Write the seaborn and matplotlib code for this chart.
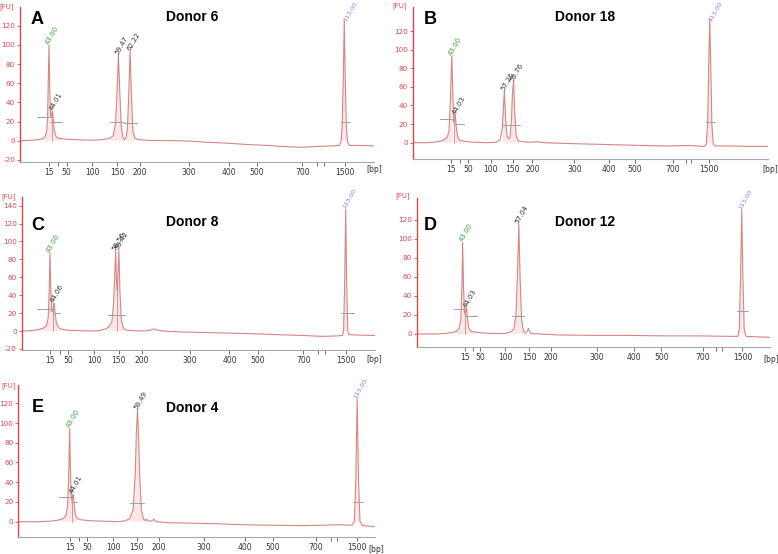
import numpy as np
import pandas as pd
import matplotlib
matplotlib.use("Agg")
import matplotlib.pyplot as plt
import seaborn as sns

sns.set_theme(style="white")
plt.rcParams["font.family"] = ["DejaVu Sans"]

# ---------------- data ----------------
# traces: (migration position in % of axis, fluorescence FU)
A_trace = [(0,0),(3,0.3),(5,1),(6.3,2),(7.0,4),(7.5,9),(7.8,25),(8.0,65),(8.2,100),(8.4,55),(8.6,28),(8.8,24),(9.0,29),(9.2,31),(9.4,22),(9.7,10),(10.2,4.5),(11,2.5),(13,1.5),(16,1),(20,0.5),(23,1),(25,2),(26.3,5),(27.0,18),(27.4,50),(27.8,90),(28.2,50),(28.6,15),(29.1,3),(29.5,1),(29.9,3),(30.3,10),(30.7,45),(31.1,94),(31.5,45),(31.9,10),(32.5,2.5),(33.5,1),(36,0.3),(40,0),(44,0),(48,-0.5),(52,-1.5),(58,-2.5),(64,-4),(70,-5),(76,-6.5),(80,-7),(84,-6),(88,-5.5),(90.2,-5),(90.7,-1),(91.0,15),(91.3,60),(91.6,126),(91.9,60),(92.2,15),(92.5,-1),(93.0,-5),(96,-5),(100,-5.5)]
B_trace = [(0,0),(4,0),(7,1),(8.5,2.5),(9.6,5),(10.2,12),(10.6,45),(11.0,93.5),(11.35,45),(11.6,22),(11.8,25),(12.0,30),(12.25,18),(12.6,7),(13.2,3),(14.5,1.5),(17,0.5),(21,0),(23.5,0.5),(24.6,3),(25.2,15),(25.5,35),(25.8,55.5),(26.1,30),(26.5,8),(27.0,4),(27.4,6),(27.8,25),(28.1,55),(28.4,65.6),(28.7,35),(29.1,8),(29.7,2),(31,1),(33,0.5),(35,1),(37,0),(45,-1),(55,-2),(65,-3),(72,-3.5),(78,-3),(82,-4),(82.6,-2),(83.0,20),(83.3,80),(83.6,133),(83.9,80),(84.2,20),(84.6,-2),(85.2,-3.5),(90,-3.5),(95,-4),(100,-4)]
C_trace = [(0,0),(3,0.5),(4.5,1.5),(6,3),(7.0,6),(7.5,15),(7.8,45),(8.0,87.5),(8.25,45),(8.5,22),(8.8,22),(9.0,28),(9.2,31),(9.45,20),(9.8,9),(10.4,4),(11.2,2),(13,1),(16,0.5),(20,0),(22,0.5),(23.5,2),(24.5,4),(25.5,10),(26.0,30),(26.3,60),(26.6,89.4),(26.85,55),(27.05,45),(27.25,65),(27.5,90.5),(27.8,45),(28.2,12),(28.8,3),(29.5,1),(32,0.3),(35,0),(36.5,1),(37.5,2.5),(38.5,1),(40,0),(45,-1),(55,-2),(65,-3),(72,-4),(80,-5),(85,-6),(89,-5.5),(90.8,-5),(91.1,0),(91.4,50),(91.7,136),(92.0,50),(92.3,0),(92.7,-4),(95,-4.5),(100,-5)]
D_trace = [(0,0),(5,0),(8,0.5),(10,1.5),(11.3,3),(12.0,6),(12.5,15),(12.8,50),(13.0,96.5),(13.25,50),(13.5,25),(13.7,20),(13.9,24),(14.1,27.7),(14.35,18),(14.7,7),(15.3,3),(16.5,2),(19,1),(22,0.5),(25,0.5),(26.5,2),(27.5,5),(28.1,20),(28.5,60),(28.9,115.4),(29.3,55),(29.7,15),(30.2,3),(30.8,1),(31.3,3),(31.6,6),(31.9,3),(32.5,0.5),(35,0),(40,-1),(50,-1.5),(60,-1.5),(70,-2),(80,-2),(88,-2.5),(90.9,-2.5),(91.3,5),(91.7,65),(92.0,130.5),(92.3,65),(92.7,5),(93.2,-2.5),(96,-3),(100,-3.5)]
E_trace = [(0,0),(5,0),(9,0.5),(11,1.5),(12.5,3),(13.3,6),(13.8,15),(14.1,45),(14.4,94.7),(14.65,45),(14.9,22),(15.1,22),(15.25,26),(15.4,27.7),(15.65,18),(16,7),(16.6,3),(17.5,2),(20,1),(24,0.5),(28,0),(30,1),(31.2,3),(32.2,12),(32.8,50),(33.1,90),(33.4,113),(33.7,90),(34.0,50),(34.5,12),(35.1,3),(35.6,1),(36.0,2.5),(36.5,0.5),(37.5,1),(38.0,2.5),(38.6,0),(42,-1),(48,-1.5),(55,-2),(62,-3),(70,-3.5),(80,-4),(86,-3.5),(90,-3),(93.6,-3.5),(94.2,0),(94.6,40),(95.0,124.4),(95.4,40),(95.8,0),(96.5,-4),(100,-5)]

# peak labels
A_peak_x = [8.2, 9.2, 27.8, 31.1, 91.6]
A_peak_h = [100, 31, 90, 94, 126]
A_peak_lab = ["43.00", "44.01", "59.47", "62.22", "113.00"]
B_peak_x = [11.0, 12.0, 25.8, 28.4, 83.6]
B_peak_h = [93.5, 30, 55.5, 65.6, 133]
B_peak_lab = ["43.00", "44.03", "57.26", "59.76", "113.00"]
C_peak_x = [8.0, 9.2, 26.6, 27.5, 91.7]
C_peak_h = [87.5, 31, 89.4, 90.5, 136]
C_peak_lab = ["43.00", "44.06", "58.56", "59.42", "113.00"]
D_peak_x = [13.0, 14.1, 28.9, 92.0]
D_peak_h = [96.5, 27.7, 115.4, 130.5]
D_peak_lab = ["43.00", "44.03", "57.04", "113.00"]
E_peak_x = [14.4, 15.4, 33.4, 95.0]
E_peak_h = [94.7, 27.7, 113, 124.4]
E_peak_lab = ["43.00", "44.01", "59.49", "113.00"]

# peak-width bars (x0, x1, FU)
A_bars = [(4.7, 8.5, 25), (8.5, 11.8, 20), (25.4, 29.4, 19), (29.4, 33.0, 18.5), (90.6, 93.2, 20)]
B_bars = [(7.7, 11.4, 26), (11.6, 14.4, 20), (25.3, 30.2, 19), (82.5, 85.0, 22)]
C_bars = [(4.4, 8.8, 25), (8.8, 10.7, 20), (24.5, 29.1, 18), (90.3, 94.1, 20)]
D_bars = [(10.6, 14.0, 26), (13.7, 17.0, 19), (26.9, 30.4, 19), (90.6, 93.7, 24)]
E_bars = [(11.5, 14.9, 25), (14.8, 16.5, 20), (31.3, 35.2, 19), (93.7, 96.7, 20)]

# divider lines
A_div = [9.0]
B_div = [11.75]
C_div = [8.95, 27.0]
D_div = [13.8]
E_div = [15.1]

# x-axis (bp) ticks
bp_labels = ["15", "", "50", "100", "150", "200", "300", "400", "500", "700", "", "", "1500"]
A_ticks = [8.2, 10.8, 13.2, 20.4, 27.5, 33.9, 47.6, 58.9, 66.9, 79.8, 84.0, 85.9, 91.8]
B_ticks = [10.8, 13.4, 15.6, 21.9, 28.1, 33.7, 45.5, 55.3, 62.6, 73.3, 76.9, 78.4, 83.4]
C_ticks = [8.0, 10.8, 13.2, 20.5, 27.5, 34.0, 47.5, 58.8, 66.8, 79.7, 84.0, 85.8, 91.7]
D_ticks = [13.7, 15.8, 17.9, 25.1, 31.9, 37.9, 50.9, 61.5, 69.2, 80.9, 84.7, 86.4, 92.2]
E_ticks = [14.5, 17.0, 19.3, 26.6, 33.2, 39.4, 52.1, 63.6, 71.3, 83.4, 87.6, 89.4, 95.0]

letters = ["A", "B", "C", "D", "E"]
donors = ["Donor 6", "Donor 18", "Donor 8", "Donor 12", "Donor 4"]

# ---------------- layout (pixels) ----------------
W, H = 778, 554
panels = [
    dict(trace=A_trace, px=A_peak_x, ph=A_peak_h, pl=A_peak_lab, bars=A_bars, div=A_div, ticks=A_ticks,
         box=(20, 374, 6.7, 161.7), ylim=(-22, 140), yt=range(-20, 121, 20),
         letter=(37, 19), title=(192, 17), fu=(7, 7), bp=(374, 170)),
    dict(trace=B_trace, px=B_peak_x, ph=B_peak_h, pl=B_peak_lab, bars=B_bars, div=B_div, ticks=B_ticks,
         box=(412.7, 768, 7, 159), ylim=(-17.5, 145.8), yt=range(0, 121, 20),
         letter=(430, 19), title=(585, 17), fu=(400, 6), bp=(770, 170)),
    dict(trace=C_trace, px=C_peak_x, ph=C_peak_h, pl=C_peak_lab, bars=C_bars, div=C_div, ticks=C_ticks,
         box=(21.7, 375, 197, 350), ylim=(-21.2, 149.7), yt=range(-20, 141, 20),
         letter=(37.5, 225), title=(192.5, 222), fu=(9, 197), bp=(374, 359)),
    dict(trace=D_trace, px=D_peak_x, ph=D_peak_h, pl=D_peak_lab, bars=D_bars, div=D_div, ticks=D_ticks,
         box=(416.7, 770, 198, 347), ylim=(-13.7, 143), yt=range(0, 121, 20),
         letter=(430, 225), title=(585, 222), fu=(403, 196), bp=(771, 359)),
    dict(trace=E_trace, px=E_peak_x, ph=E_peak_h, pl=E_peak_lab, bars=E_bars, div=E_div, ticks=E_ticks,
         box=(18.3, 375, 385, 537), ylim=(-15.5, 138.5), yt=range(0, 121, 20),
         letter=(37.5, 408), title=(192.5, 408), fu=(9, 386), bp=(376, 549)),
]

RED = "#e0474c"
TRACE = "#d98585"
FILL = "#f4cccc"
BAR = "#8fa7a7"

fig = plt.figure(figsize=(W / 100, H / 100), dpi=100)
fig.patch.set_facecolor("white")

for i, p in enumerate(panels):
    l, r, t, b = p["box"]
    ax = fig.add_axes([l / W, 1 - b / H, (r - l) / W, (b - t) / H])
    ax.set_facecolor("none")
    df = pd.DataFrame(p["trace"], columns=["pos", "fu"])
    y0, y1 = p["ylim"]
    px_per_fu = (b - t) / (y1 - y0)

    # light fill under peaks
    xf = np.linspace(0, 100, 4000)
    yf = np.interp(xf, df["pos"], df["fu"])
    mask = np.zeros_like(xf, dtype=bool)
    for x0, x1, _ in p["bars"]:
        mask |= (xf >= x0) & (xf <= x1)
    ax.fill_between(xf, yf, 0, where=mask & (yf > 0), color=FILL, alpha=0.45, linewidth=0)

    sns.lineplot(data=df, x="pos", y="fu", ax=ax, color=TRACE, linewidth=0.8,
                 estimator=None, sort=False)

    for x0, x1, yv in p["bars"]:
        ax.plot([x0, x1], [yv, yv], color=BAR, linewidth=0.7)
    for xd in p["div"]:
        ax.plot([xd, xd], [0, np.interp(xd, df["pos"], df["fu"])], color=TRACE, linewidth=0.6)

    n = len(p["pl"])
    for k, (xp, hp, lab) in enumerate(zip(p["px"], p["ph"], p["pl"])):
        col = "#3c9a3c" if k == 0 else ("#9b6fd6" if k == n - 1 else "#333333")
        fs = 4.6 if k == n - 1 else 5.0
        ytxt, xtxt = hp + 1, xp - 0.5
        if k == n - 1:
            # keep the label inside the figure (needs ~20 px above its start)
            room = t + (y1 - ytxt) * px_per_fu
            if room < 21:
                ytxt -= (21 - room) / px_per_fu
                xtxt = xp + 0.1
        ax.text(xtxt, ytxt, lab, rotation=60, rotation_mode="anchor",
                ha="left", va="center", fontsize=fs, color=col, clip_on=False)

    ax.set_xlim(0, 100)
    ax.set_ylim(y0, y1)
    ax.set_xticks(p["ticks"])
    ax.set_xticklabels(bp_labels)
    ax.set_yticks(list(p["yt"]))
    ax.set_yticklabels([str(v) for v in p["yt"]])
    ax.set_xlabel("")
    ax.set_ylabel("")
    ax.tick_params(axis="x", direction="out", length=3, width=0.6, colors="#555555",
                   labelsize=5.5, labelcolor="#333333", pad=1.5, bottom=True)
    ax.tick_params(axis="y", direction="out", length=2.5, width=0.6, colors=RED,
                   labelsize=5.2, labelcolor=RED, pad=1.0, left=True)
    for s in ["top", "right"]:
        ax.spines[s].set_visible(False)
    ax.spines["left"].set_color(RED)
    ax.spines["left"].set_linewidth(1.0)
    ax.spines["bottom"].set_color("#a8a8a8")
    ax.spines["bottom"].set_linewidth(0.8)
    ax.grid(False)

    lx, ly = p["letter"]
    fig.text(lx / W, 1 - ly / H, letters[i], fontsize=13, fontweight="bold",
             family="Liberation Sans", ha="center", va="center", color="black")
    tx, ty = p["title"]
    fig.text(tx / W, 1 - ty / H, donors[i], fontsize=10, fontweight="bold",
             family="Liberation Sans", ha="center", va="center", color="black")
    fx, fy = p["fu"]
    fig.text(fx / W, 1 - fy / H, "[FU]", fontsize=5.0, color=RED, ha="center", va="center")
    bx, by = p["bp"]
    fig.text(bx / W, 1 - by / H, "[bp]", fontsize=5.5, color="#333333", ha="center", va="center")

fig.savefig("out.png", dpi=100, facecolor="white")
